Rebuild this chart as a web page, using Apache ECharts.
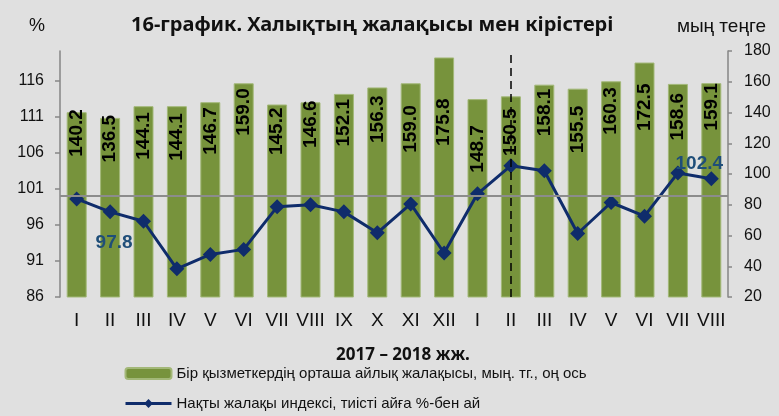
<!DOCTYPE html>
<html>
<head>
<meta charset="utf-8">
<script src="https://cdn.jsdelivr.net/npm/echarts@6/dist/echarts.min.js"></script>
<style>
  html, body { margin: 0; padding: 0; background: #e0e0e0; }
  #chart { width: 779px; height: 416px; }
</style>
</head>
<body>
<div id="chart"></div>
<script>
// months, 2017 I..XII then 2018 I..VIII
const months = ['I', 'II', 'III', 'IV', 'V', 'VI', 'VII', 'VIII', 'IX', 'X', 'XI', 'XII',
  'I', 'II', 'III', 'IV', 'V', 'VI', 'VII', 'VIII']

// average monthly wage, thousand tenge (right axis)
const wage = [140.2, 136.5, 144.1, 144.1, 146.7, 159.0, 145.2, 146.6, 152.1, 156.3, 159.0, 175.8,
  148.7, 150.5, 158.1, 155.5, 160.3, 172.5, 158.6, 159.1]

// real wage index, % to the same month of previous year (left axis)
const realIndex = [99.6, 97.8, 96.5, 89.9, 91.9, 92.6, 98.5, 98.8, 97.8, 94.9, 98.9, 92.1,
  100.3, 104.2, 103.5, 94.8, 99.1, 97.2, 103.2, 102.4]

const leftTicks = { min: 86, interval: 5 }
const rightTicks = { min: 20, max: 180, interval: 20 }

const titleText = '16-график. Халықтың жалақысы мен кірістері'
const xName = '2017 – 2018 жж.'
const barName = 'Бір қызметкердің орташа айлық жалақысы, мың. тг., оң ось'
const lineName = 'Нақты жалақы индексі, тиісті айға %-бен ай'

const chart = echarts.init(document.getElementById('chart'))

// labels in the original were nudged down by hand in a few bars
const labelDrop = [-3, -3, 6, 7, 5, 5, 3, -2, 5, 8, 22, 41, 26, 12, 4, 17, 6, 21, 9, 0]
// only two index points carry a value label
const shownIndexLabels = { 1: 'bottom', 19: 'left' }

const font = 'Liberation Sans, Arial, sans-serif'

const option = {
  backgroundColor: '#e0e0e0',
  animation: false,
  title: [
    {
      text: titleText,
      left: 126,
      top: 10,
      textStyle: { fontFamily: 'Noto Sans, sans-serif', fontWeight: 'bold', fontSize: 20, color: '#111' }
    },
    {
      text: '%',
      left: 24,
      top: 12,
      textStyle: { fontFamily: font, fontWeight: 'normal', fontSize: 18, color: '#111' }
    },
    {
      text: 'мың теңге',
      right: 8,
      top: 12,
      textStyle: { fontFamily: font, fontWeight: 'normal', fontSize: 19, color: '#111' }
    }
  ],
  legend: {
    orient: 'vertical',
    left: 124,
    top: 364,
    padding: 0,
    itemWidth: 46,
    itemHeight: 11,
    itemGap: 11,
    lineStyle: { width: 3 },
    textStyle: { fontFamily: font, fontSize: 15, color: '#111', lineHeight: 19 },
    data: [barName, lineName]
  },
  grid: {
    left: 60,
    right: 51,
    top: 51,
    bottom: 119
  },
  xAxis: {
    type: 'category',
    data: months,
    name: xName,
    nameLocation: 'middle',
    nameGap: 50,
    nameTextStyle: { fontFamily: 'Noto Sans, sans-serif', fontWeight: 'bold', fontSize: 17, color: '#111', padding: [0, 0, 0, 18] },
    axisLine: { show: false },
    axisTick: { show: false },
    axisLabel: { fontFamily: font, fontSize: 19, color: '#111', margin: 14, interval: 0 }
  },
  yAxis: [
    {
      type: 'value',
      min: leftTicks.min,
      max: 120.1,
      interval: leftTicks.interval,
      splitLine: { show: false },
      axisLine: { show: true, lineStyle: { color: '#868686', width: 1.5 } },
      axisTick: { show: true, length: 5, lineStyle: { color: '#868686', width: 1.5 } },
      axisLabel: { fontFamily: font, fontSize: 16, color: '#111', margin: 16, showMaxLabel: false }
    },
    {
      type: 'value',
      min: rightTicks.min,
      max: rightTicks.max,
      interval: rightTicks.interval,
      splitLine: { show: false },
      axisLine: { show: true, lineStyle: { color: '#868686', width: 1.5 } },
      axisTick: { show: true, length: 4, lineStyle: { color: '#868686', width: 1.5 } },
      axisLabel: { fontFamily: font, fontSize: 16, color: '#111', margin: 16 }
    }
  ],
  series: [
    {
      name: barName,
      type: 'bar',
      yAxisIndex: 1,
      barWidth: 20,
      itemStyle: { color: '#77933c', borderColor: '#a3b878', borderWidth: 1 },
      label: {
        show: true,
        position: 'insideTop',
        rotate: 90,
        align: 'right',
        verticalAlign: 'middle',
        fontFamily: font,
        fontWeight: 'bold',
        fontSize: 19,
        color: '#000',
        formatter: (p) => p.value.toFixed(1)
      },
      data: wage.map((v, i) => ({ value: v, label: { distance: labelDrop[i] } })),
      markLine: {
        silent: true,
        symbol: 'none',
        label: { show: false },
        lineStyle: { color: '#000', type: [8, 5], width: 1.5 },
        data: [{ xAxis: 13 }]
      }
    },
    {
      name: lineName,
      type: 'line',
      yAxisIndex: 0,
      symbol: 'diamond',
      symbolSize: 15,
      lineStyle: { color: '#0f2c6b', width: 3 },
      itemStyle: { color: '#0f2c6b' },
      data: realIndex.map((v, i) => {
        const pos = shownIndexLabels[i]
        if (!pos) return v
        return {
          value: v,
          label: {
            show: true,
            position: pos === 'bottom' ? 'bottom' : 'top',
            distance: pos === 'bottom' ? 14 : 4,
            offset: pos === 'bottom' ? [4, 0] : [-12, 6],
            fontFamily: font,
            fontWeight: 'bold',
            fontSize: 19,
            color: '#1f4e79',
            formatter: (p) => p.value.toFixed(1)
          }
        }
      }),
      markLine: {
        silent: true,
        symbol: 'none',
        label: { show: false },
        lineStyle: { color: '#8c8c8c', type: 'solid', width: 2 },
        data: [{ yAxis: 100 }]
      }
    }
  ]
}

chart.setOption(option)
</script>
</body>
</html>
